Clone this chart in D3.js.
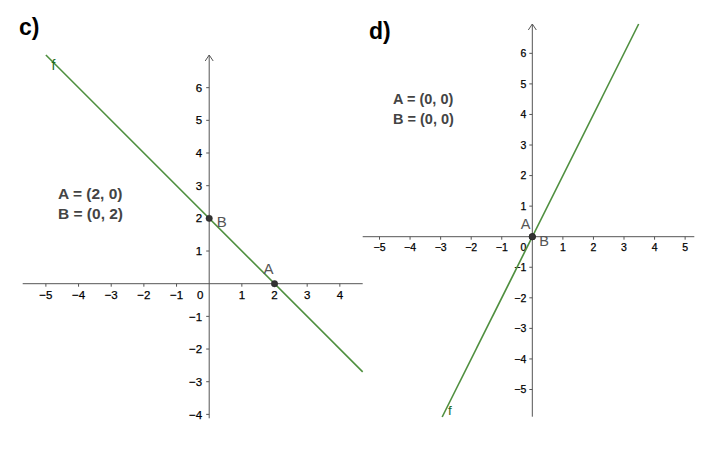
<!DOCTYPE html>
<html>
<head>
<meta charset="utf-8">
<script src="https://cdn.jsdelivr.net/npm/d3@7"></script>
<style>
  html, body { margin: 0; padding: 0; background: #fff; }
  svg { display: block; }
  text { font-family: Arial, "Liberation Sans", sans-serif; }
</style>
</head>
<body>
<svg id="chart" width="719" height="450"></svg>
<script>
// ---- data ----
const panelTitles = ["c)", "d)"];

// panel c
const xTicksC = [-5, -4, -3, -2, -1, 1, 2, 3, 4];
const yTicksC = [-4, -3, -2, -1, 1, 2, 3, 4, 5, 6];
const viewXC = [-5.71, 4.70];
const viewYC = [-4.12, 7.0];
const slopeC = -1, interceptC = 2;      // f(x) = -x + 2
const lineXC = [-5, 4.7];
const pointsC = [{ name: "A", x: 2, y: 0 }, { name: "B", x: 0, y: 2 }];
const infoC = ["A = (2, 0)", "B = (0, 2)"];

// panel d
const xTicksD = [-5, -4, -3, -2, -1, 1, 2, 3, 4, 5];
const yTicksD = [-5, -4, -3, -2, -1, 1, 2, 3, 4, 5, 6];
const viewXD = [-5.55, 5.30];
const viewYD = [-5.89, 6.96];
const slopeD = 2, interceptD = 0;       // f(x) = 2x
const lineXD = [-2.95, 3.48];
const pointsD = [{ name: "A", x: 0, y: 0 }, { name: "B", x: 0, y: 0 }];
const infoD = ["A = (0, 0)", "B = (0, 0)"];

// ---- layout ----
const svg = d3.select("#chart");
const AXIS = "#555";
const LINE = "#4f8f3f";
const FLAB = "#1f6b1f";

function fmt(v) { return v < 0 ? "\u2212" + Math.abs(v) : String(v); }

function panel(cfg) {
  const x = d3.scaleLinear().domain(cfg.viewX).range(cfg.rangeX);
  const y = d3.scaleLinear().domain(cfg.viewY).range(cfg.rangeY);
  const g = svg.append("g");
  const ox = x(0), oy = y(0);

  // title
  g.append("text").attr("x", cfg.title.x).attr("y", cfg.title.y)
    .attr("font-size", 23).attr("font-weight", "bold").attr("fill", "#000")
    .text(cfg.title.text);

  // x axis
  g.append("line").attr("x1", x(cfg.viewX[0])).attr("x2", x(cfg.viewX[1]))
    .attr("y1", oy).attr("y2", oy).attr("stroke", AXIS).attr("stroke-width", 1);
  // y axis
  g.append("line").attr("x1", ox).attr("x2", ox)
    .attr("y1", y(cfg.viewY[0])).attr("y2", y(cfg.viewY[1])).attr("stroke", AXIS).attr("stroke-width", 1);
  // arrow at top of y axis
  const ty = y(cfg.viewY[1]);
  g.append("path").attr("d", `M${ox - 4},${ty + 6}L${ox},${ty}L${ox + 4},${ty + 6}`)
    .attr("fill", "none").attr("stroke", AXIS).attr("stroke-width", 1);

  // x ticks
  cfg.xTicks.forEach(t => {
    g.append("line").attr("x1", x(t)).attr("x2", x(t)).attr("y1", oy).attr("y2", oy + 3)
      .attr("stroke", AXIS);
    g.append("text").attr("x", x(t)).attr("y", oy + cfg.xLabDy).attr("text-anchor", "middle")
      .attr("font-size", cfg.tickFs).attr("fill", "#000").attr("stroke", "#000").attr("stroke-width", 0.25)
      .text(fmt(t));
  });
  // y ticks
  cfg.yTicks.forEach(t => {
    g.append("line").attr("x1", ox - 3).attr("x2", ox).attr("y1", y(t)).attr("y2", y(t))
      .attr("stroke", AXIS);
    g.append("text").attr("x", ox - cfg.yLabDx).attr("y", y(t)).attr("dy", "0.36em")
      .attr("text-anchor", "end").attr("font-size", cfg.tickFs).attr("fill", "#000")
      .attr("stroke", "#000").attr("stroke-width", 0.25).text(fmt(t));
  });
  // origin label
  g.append("text").attr("x", ox - cfg.zeroDx).attr("y", oy + cfg.xLabDy).attr("text-anchor", "middle")
    .attr("font-size", cfg.tickFs).attr("fill", "#000").attr("stroke", "#000").attr("stroke-width", 0.25)
    .text("0");

  // function line
  const fx = v => cfg.slope * v + cfg.intercept;
  g.append("path")
    .datum(cfg.lineX.map(v => [v, fx(v)]))
    .attr("d", d3.line().x(d => x(d[0])).y(d => y(d[1])))
    .attr("fill", "none").attr("stroke", LINE).attr("stroke-width", 1.6);
  g.append("text").attr("x", cfg.fLab.x).attr("y", cfg.fLab.y)
    .attr("font-size", cfg.fFs).attr("fill", FLAB).text("f");

  // points
  cfg.points.forEach((p, i) => {
    g.append("circle").attr("cx", x(p.x)).attr("cy", y(p.y)).attr("r", 3.2)
      .attr("fill", "#333").attr("stroke", "#222").attr("stroke-width", 0.5);
    g.append("text").attr("x", x(p.x) + cfg.ptLab[i][0]).attr("y", y(p.y) + cfg.ptLab[i][1])
      .attr("font-size", cfg.ptFs).attr("fill", "#555").text(p.name);
  });

  // info text
  cfg.info.forEach((s, i) => {
    g.append("text").attr("x", cfg.infoPos[0]).attr("y", cfg.infoPos[1] + i * cfg.infoGap)
      .attr("font-size", cfg.infoFs).attr("font-weight", "bold").attr("fill", "#444").text(s);
  });
}

panel({
  title: { text: panelTitles[0], x: 19, y: 35 },
  viewX: viewXC, viewY: viewYC, rangeX: [22.7, 362.7], rangeY: [418.3, 55],
  xTicks: xTicksC, yTicks: yTicksC, tickFs: 11.5, xLabDy: 15, yLabDx: 7, zeroDx: 9,
  slope: slopeC, intercept: interceptC, lineX: lineXC,
  fLab: { x: 51.5, y: 70 }, fFs: 14,
  points: pointsC, ptLab: [[-11, -9.5], [7.5, 8.5]], ptFs: 15,
  info: infoC, infoPos: [58, 199.3], infoGap: 20, infoFs: 15.5
});

panel({
  title: { text: panelTitles[1], x: 369, y: 39 },
  viewX: viewXD, viewY: viewYD, rangeX: [362.7, 694.3], rangeY: [416.7, 24],
  xTicks: xTicksD, yTicks: yTicksD, tickFs: 10.5, xLabDy: 14, yLabDx: 6, zeroDx: 9,
  slope: slopeD, intercept: interceptD, lineX: lineXD,
  fLab: { x: 448, y: 415 }, fFs: 13.5,
  points: pointsD, ptLab: [[-11.5, -7.5], [7, 9.5]], ptFs: 14.5,
  info: infoD, infoPos: [393, 104.3], infoGap: 20, infoFs: 14.5
});
</script>
</body>
</html>
